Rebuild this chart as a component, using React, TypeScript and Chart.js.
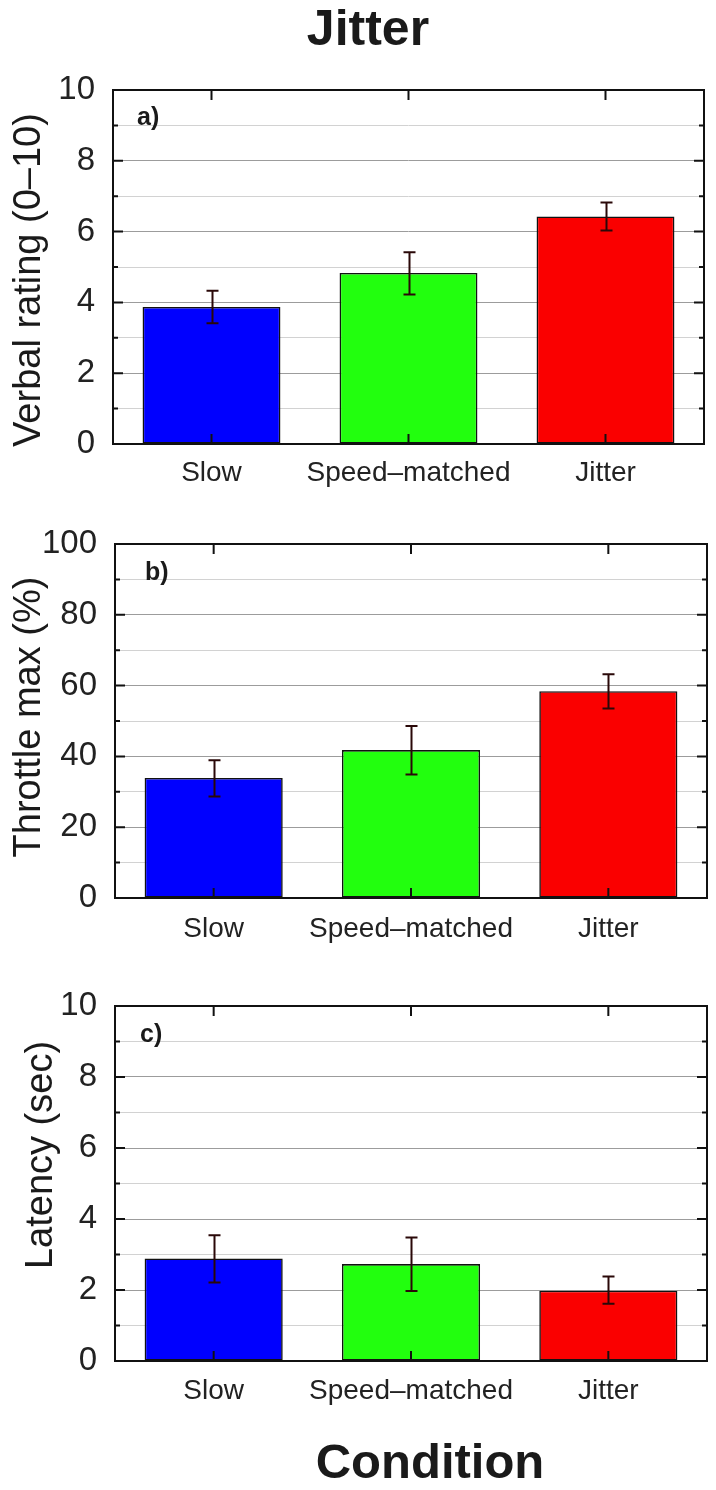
import React, { useEffect, useRef } from 'react';
import { Chart, registerables } from 'chart.js';

Chart.register(...registerables);

// ---------- data ----------
const categories = ['Slow', 'Speed\u2013matched', 'Jitter'];
const barColors = ['#0000ff', '#22ff0e', '#fa0000'];

const verbalMeans = [3.87, 4.83, 6.43];
const verbalLow = [3.41, 4.22, 6.03];
const verbalHigh = [4.33, 5.42, 6.82];
const verbalTickLabels = [0, 2, 4, 6, 8, 10];

const throttleMeans = [33.9, 41.8, 58.4];
const throttleLow = [28.7, 34.9, 53.5];
const throttleHigh = [38.9, 48.6, 63.2];
const throttleTickLabels = [0, 20, 40, 60, 80, 100];

const latencyMeans = [2.89, 2.73, 1.98];
const latencyLow = [2.21, 1.97, 1.61];
const latencyHigh = [3.54, 3.48, 2.38];
const latencyTickLabels = [0, 2, 4, 6, 8, 10];

const FONT = '"Liberation Sans", Arial, Helvetica, sans-serif';
const W = 716;

type TextItem = { text: string; font: string; x: number; y: number; align: CanvasTextAlign; rotate?: boolean };

type Panel = {
  offset: number;
  height: number;
  area: { left: number; right: number; top: number; bottom: number };
  max: number;
  step: number;
  labels: number[];
  means: number[];
  low: number[];
  high: number[];
  xPad: number;
  texts: TextItem[];
};

const panels: Panel[] = [
  {
    offset: 0,
    height: 500,
    area: { left: 113, right: 704, top: 90, bottom: 444 },
    max: 10,
    step: 1,
    labels: verbalTickLabels,
    means: verbalMeans,
    low: verbalLow,
    high: verbalHigh,
    xPad: 12,
    texts: [
      { text: 'Jitter', font: `bold 50px ${FONT}`, x: 368, y: 45, align: 'center' },
      { text: 'a)', font: `bold 25px ${FONT}`, x: 137, y: 125, align: 'left' },
      { text: 'Verbal rating (0\u201310)', font: `38px ${FONT}`, x: 40, y: 280, align: 'center', rotate: true },
    ],
  },
  {
    offset: 500,
    height: 460,
    area: { left: 115, right: 707, top: 44, bottom: 398 },
    max: 100,
    step: 10,
    labels: throttleTickLabels,
    means: throttleMeans,
    low: throttleLow,
    high: throttleHigh,
    xPad: 14,
    texts: [
      { text: 'b)', font: `bold 25px ${FONT}`, x: 145, y: 80, align: 'left' },
      { text: 'Throttle max (%)', font: `38px ${FONT}`, x: 40, y: 217, align: 'center', rotate: true },
    ],
  },
  {
    offset: 960,
    height: 530,
    area: { left: 115, right: 707, top: 46, bottom: 401 },
    max: 10,
    step: 1,
    labels: latencyTickLabels,
    means: latencyMeans,
    low: latencyLow,
    high: latencyHigh,
    xPad: 13,
    texts: [
      { text: 'c)', font: `bold 25px ${FONT}`, x: 140, y: 82, align: 'left' },
      { text: 'Latency (sec)', font: `38px ${FONT}`, x: 52, y: 195, align: 'center', rotate: true },
      { text: 'Condition', font: `bold 49px ${FONT}`, x: 430, y: 518, align: 'center' },
    ],
  },
];

function makeDecor(p: Panel) {
  return {
    id: 'decor',
    afterDatasetsDraw(chart: any) {
      const { ctx, chartArea: a, scales } = chart;
      const xs = scales.x;
      const ys = scales.y;
      ctx.save();
      // error bars
      ctx.strokeStyle = '#2a0808';
      ctx.lineWidth = 2;
      p.low.forEach((lo, i) => {
        const px = Math.round(xs.getPixelForValue(i)) + 0.5;
        const yl = ys.getPixelForValue(lo);
        const yh = ys.getPixelForValue(p.high[i]);
        ctx.beginPath();
        ctx.moveTo(px, yl);
        ctx.lineTo(px, yh);
        ctx.moveTo(px - 6, yl);
        ctx.lineTo(px + 6, yl);
        ctx.moveTo(px - 6, yh);
        ctx.lineTo(px + 6, yh);
        ctx.stroke();
      });
      // inner ticks
      ctx.strokeStyle = '#111';
      ctx.lineWidth = 2;
      ys.ticks.forEach((t: any) => {
        if (t.value <= ys.min || t.value >= ys.max) return;
        const py = ys.getPixelForValue(t.value);
        const len = p.labels.includes(t.value) ? 10 : 5;
        ctx.beginPath();
        ctx.moveTo(a.left, py);
        ctx.lineTo(a.left + len, py);
        ctx.moveTo(a.right, py);
        ctx.lineTo(a.right - len, py);
        ctx.stroke();
      });
      xs.ticks.forEach((_t: any, i: number) => {
        const px = xs.getPixelForValue(i);
        ctx.beginPath();
        ctx.moveTo(px, a.top);
        ctx.lineTo(px, a.top + 10);
        ctx.moveTo(px, a.bottom);
        ctx.lineTo(px, a.bottom - 10);
        ctx.stroke();
      });
      // frame
      ctx.lineWidth = 2;
      ctx.strokeRect(a.left, a.top, a.right - a.left, a.bottom - a.top);
      ctx.restore();
    },
    afterDraw(chart: any) {
      const { ctx } = chart;
      ctx.save();
      ctx.fillStyle = '#1a1a1a';
      ctx.textBaseline = 'alphabetic';
      p.texts.forEach((t) => {
        ctx.font = t.font;
        ctx.textAlign = t.align;
        if (t.rotate) {
          ctx.save();
          ctx.translate(t.x, t.y);
          ctx.rotate(-Math.PI / 2);
          ctx.fillText(t.text, 0, 0);
          ctx.restore();
        } else {
          ctx.fillText(t.text, t.x, t.y);
        }
      });
      ctx.restore();
    },
  };
}

function PanelChart({ p }: { p: Panel }) {
  const ref = useRef<HTMLCanvasElement | null>(null);
  useEffect(() => {
    if (!ref.current) return;
    const chart = new Chart(ref.current, {
      type: 'bar',
      data: {
        labels: categories,
        datasets: [
          {
            data: p.means,
            backgroundColor: barColors,
            borderColor: '#111',
            borderWidth: 1.6,
            borderSkipped: false,
            categoryPercentage: 1,
            barPercentage: 0.7,
          },
        ],
      },
      options: {
        animation: false,
        responsive: false,
        devicePixelRatio: 1,
        layout: { padding: { left: 0, top: p.area.top, right: W - p.area.right, bottom: 0 } },
        plugins: { legend: { display: false }, tooltip: { enabled: false }, title: { display: false } },
        scales: {
          x: {
            type: 'category',
            grid: { display: false, drawTicks: false },
            border: { display: false },
            ticks: { font: { family: FONT, size: 28 }, color: '#222', padding: p.xPad, maxRotation: 0, autoSkip: false },
            afterFit: (s: any) => {
              s.height = p.height - p.area.bottom;
            },
          },
          y: {
            min: 0,
            max: p.max,
            border: { display: false },
            grid: {
              drawTicks: false,
              lineWidth: 1,
              color: (c: any) =>
                c.tick && p.labels.includes(c.tick.value) ? '#9c9c9c' : '#d2d2d2',
            },
            ticks: {
              stepSize: p.step,
              font: { family: FONT, size: 33 },
              color: '#222',
              padding: 18,
              autoSkip: false,
              callback: (v: any) => (p.labels.includes(Number(v)) ? String(v) : ''),
            },
            afterFit: (s: any) => {
              s.width = p.area.left;
            },
          },
        },
      },
      plugins: [makeDecor(p)],
    } as any);
    return () => chart.destroy();
  }, [p]);
  return (
    <canvas
      ref={ref}
      width={W}
      height={p.height}
      style={{ position: 'absolute', left: 0, top: p.offset, width: W, height: p.height, display: 'block' }}
    />
  );
}

export default function App() {
  return (
    <div style={{ position: 'absolute', left: 0, top: 0, width: W, height: 1490, background: '#fff' }}>
      {panels.map((p, i) => (
        <PanelChart key={i} p={p} />
      ))}
    </div>
  );
}
